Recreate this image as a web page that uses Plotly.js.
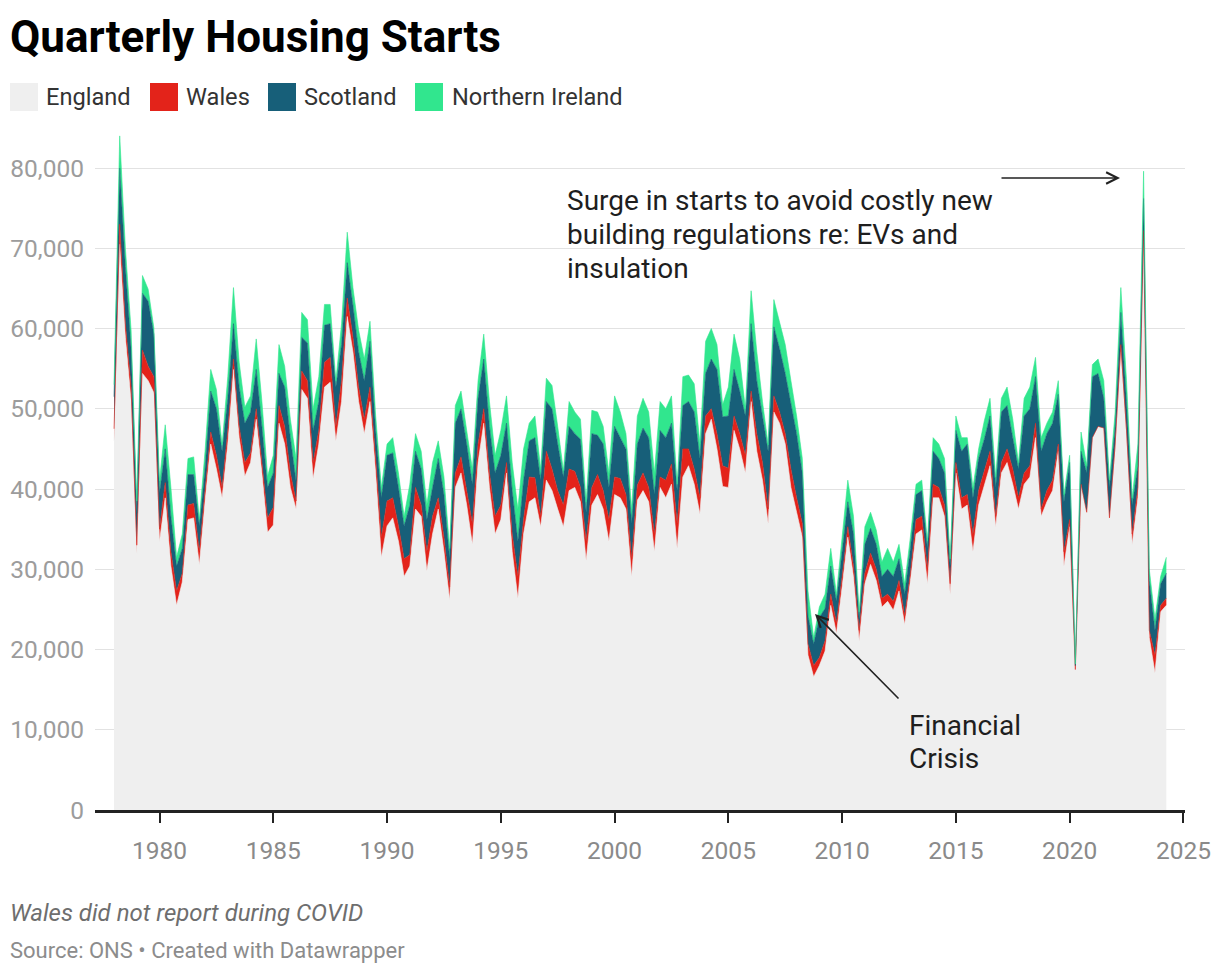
<!DOCTYPE html>
<html>
<head>
<meta charset="utf-8">
<script src="https://cdn.plot.ly/plotly-3.0.1.min.js"></script>
<style>
  html, body { margin: 0; padding: 0; background: #ffffff; }
  #chart { width: 1220px; height: 976px; }
</style>
</head>
<body>
<div id="chart"></div>
<script>
// ---------- DATA (thousands of housing starts per quarter, 1978 Q1 – 2024 Q2) ----------
const firstYear = 1978;           // first quarter shown is 1978 Q1
const unit = 1000;                // values below are in thousands

const england = [
  46.0,70.5,58.9,51.0,32.0,54.4,53.5,52.0,33.5,38.9,
  30.4,25.5,28.4,36.2,36.4,30.6,38.5,45.6,42.5,38.9,
  45.6,54.9,46.4,41.6,43.3,48.7,42.0,34.6,35.5,48.2,
  45.6,40.2,37.5,52.4,51.3,41.3,45.6,52.7,53.3,46.0,
  50.9,61.5,57.1,50.9,46.9,50.9,42.0,31.5,35.4,36.4,
  33.5,29.1,30.4,37.5,36.6,29.8,34.4,37.5,32.2,26.2,
  40.2,42.0,38.0,33.1,43.3,48.2,40.2,34.4,36.2,42.0,
  32.2,26.4,34.4,38.4,38.9,35.3,41.1,39.8,37.5,35.3,
  39.8,40.2,38.4,31.1,38.0,39.3,37.5,33.5,39.3,38.9,
  37.5,29.1,38.6,39.8,38.4,32.2,40.2,38.9,40.6,32.6,
  41.5,42.9,40.6,36.9,46.9,48.7,45.0,40.3,40.2,47.3,
  45.0,42.0,50.9,44.7,41.1,35.7,49.6,48.2,45.6,40.2,
  37.1,34.0,19.3,16.6,18.0,19.8,25.5,22.0,27.8,34.0,
  29.1,21.1,28.2,30.6,28.6,25.3,26.0,24.9,27.3,23.1,
  28.6,34.4,34.9,28.2,38.9,38.9,36.6,26.9,42.0,37.5,
  38.0,32.2,38.0,40.5,42.9,35.3,42.0,43.3,40.6,37.5,
  40.6,41.5,46.4,36.6,38.4,39.8,44.7,30.4,35.3,17.5,
  40.6,37.1,46.4,47.8,47.6,36.4,44.7,57.1,46.4,33.1,
  38.9,70.9,21.5,17.1,24.7,25.5
];

const wales = [
  1.5,2.5,1.7,1.7,1.0,2.9,1.8,2.0,1.5,1.9,
  1.8,1.8,1.1,1.8,1.8,1.6,1.3,1.5,1.7,1.3,
  1.7,1.3,1.4,1.7,1.2,1.3,1.3,1.8,2.2,2.2,
  2.2,1.8,1.0,2.3,2.2,2.0,1.7,3.1,3.1,1.8,
  2.6,2.3,1.8,1.8,1.8,1.8,1.8,2.5,3.1,2.5,
  1.9,2.2,1.4,2.7,1.4,2.4,2.2,1.4,1.8,1.6,
  1.8,2.0,1.8,2.6,2.3,1.8,1.8,2.2,1.8,1.3,
  2.2,2.7,1.8,3.1,2.5,1.3,3.6,2.7,2.3,2.7,
  2.7,2.0,1.8,2.4,2.2,2.5,2.3,2.7,2.2,2.4,
  1.8,2.2,1.9,2.2,1.8,2.2,1.3,2.2,2.5,3.1,
  3.5,2.1,1.9,2.0,2.2,1.3,1.9,2.6,2.4,1.8,
  1.9,2.2,1.3,2.2,2.2,1.8,2.0,1.4,1.3,2.3,
  1.8,1.7,1.4,1.4,1.0,1.3,1.4,1.3,1.3,1.3,
  1.3,1.3,1.3,1.4,1.4,1.1,0.9,1.1,1.3,1.1,
  0.9,1.8,1.7,1.8,1.7,1.3,1.4,1.3,1.3,1.4,
  1.3,2.2,1.8,1.7,1.8,1.3,1.3,1.7,1.9,1.4,
  1.4,1.4,1.8,0.9,1.4,1.3,0.9,1.8,0.9,null,
  null,null,null,null,null,null,0.9,0.9,0.9,1.3,
  1.3,1.3,0.9,2.2,0.8,0.9
];

const scotland = [
  4.0,7.0,7.1,4.8,4.0,7.1,8.1,5.3,4.5,4.2,
  4.4,3.1,3.1,3.8,3.6,3.2,2.7,5.1,5.8,4.5,
  4.0,4.4,4.9,4.9,5.1,4.9,4.5,3.8,4.3,4.0,
  4.9,4.4,2.5,4.2,4.7,4.0,3.6,4.6,4.2,4.9,
  4.5,4.4,4.0,4.4,4.8,5.7,3.5,4.9,5.7,5.6,
  4.8,4.1,6.2,4.5,4.5,4.0,3.6,4.9,5.3,3.5,
  6.2,6.0,5.8,4.9,5.7,6.2,5.8,5.4,6.2,4.9,
  5.4,4.4,4.9,4.5,5.0,4.5,6.2,7.5,5.8,3.5,
  5.3,4.7,6.0,3.6,6.7,4.9,5.8,4.0,6.3,5.1,
  5.7,4.4,5.1,5.6,6.2,4.9,5.8,5.3,5.1,4.1,
  5.4,5.9,7.1,4.9,5.3,6.2,8.0,6.1,6.5,5.8,
  5.3,4.9,8.4,6.6,5.8,7.2,8.6,7.9,7.5,7.9,
  8.0,6.3,3.5,2.7,5.0,4.0,3.5,2.7,3.1,3.1,
  4.0,1.4,3.6,3.1,3.1,2.7,3.1,3.1,2.7,2.7,
  3.1,3.1,3.2,2.6,4.1,3.6,4.0,2.2,4.0,5.8,
  6.3,4.5,4.0,4.0,4.4,3.6,6.3,5.4,3.9,3.6,
  7.1,7.1,5.8,7.2,7.1,7.1,6.2,6.2,7.1,0.5,
  4.1,4.9,7.6,6.6,3.7,3.8,2.2,4.0,3.6,3.6,
  2.7,4.0,6.2,3.1,2.7,3.1
];

const northernIreland = [
  1.5,4.0,2.3,2.3,1.5,2.2,1.5,0.8,1.5,3.0,
  3.6,1.1,1.8,2.0,2.2,0.8,2.2,2.7,2.4,0.8,
  2.7,4.5,3.1,2.0,2.0,3.8,3.1,1.4,2.2,3.6,
  2.6,2.3,2.8,3.1,2.9,2.7,3.1,2.6,2.4,0.8,
  2.6,3.8,2.2,2.7,2.7,2.5,1.8,1.3,1.4,1.9,
  1.8,1.2,2.6,2.2,2.2,1.8,3.1,2.2,2.2,1.3,
  2.2,2.2,1.7,1.9,2.2,3.1,3.1,2.2,3.1,3.4,
  3.5,4.0,3.9,2.2,2.7,1.4,2.9,2.9,2.2,0.8,
  3.1,2.7,2.5,1.3,2.9,2.9,2.2,1.8,3.8,3.2,
  1.9,1.8,3.5,3.7,3.2,2.7,3.6,3.6,3.4,0.8,
  3.6,3.3,3.5,1.8,4.0,3.8,3.1,1.5,3.6,4.4,
  4.0,0.9,4.1,3.6,1.8,0.8,3.4,3.1,3.6,3.1,
  2.2,1.8,3.1,0.8,1.3,1.8,2.2,0.9,2.2,2.7,
  2.2,0.9,2.2,2.0,1.8,1.8,2.6,1.8,1.8,1.3,
  1.4,1.3,1.3,0.9,1.7,1.8,1.8,0.9,1.8,1.7,
  0.8,1.3,1.2,2.3,2.2,1.3,1.7,2.3,2.3,0.8,
  2.2,2.7,2.4,1.7,1.3,1.4,1.7,0.9,0.9,0.2,
  2.4,0.9,1.5,1.8,2.2,0.9,1.8,3.1,2.6,0.9,
  2.7,3.4,1.4,1.4,0.9,2.0
];

const seriesNames  = ['England', 'Wales', 'Scotland', 'Northern Ireland'];
const seriesColors = ['#efefef', '#e3231a', '#175f79', '#31e68e'];
const xTickYears   = [1980, 1985, 1990, 1995, 2000, 2005, 2010, 2015, 2020, 2025];
const yTickValues  = [0, 10000, 20000, 30000, 40000, 50000, 60000, 70000, 80000];

const surgeLines  = ['Surge in starts to avoid costly new', 'building regulations re: EVs and', 'insulation'];
const crisisLines = ['Financial', 'Crisis'];

// quarter positions as decimal years (Q1 = .00, Q2 = .25, ...)
const quarters = england.map((_, i) => firstYear + i / 4);

// ---------- LAYOUT GEOMETRY (pixels) ----------
const W = 1220, H = 976;
const M = { l: 95, r: 35, t: 130, b: 166 };
const plotW = W - M.l - M.r, plotH = H - M.t - M.b;
const px = x => (x - M.l) / plotW;           // pixel x -> paper x
const py = y => (H - M.b - y) / plotH;       // pixel y -> paper y

const FONT = 'Roboto, "Open Sans", sans-serif';

const allSeries = [england, wales, scotland, northernIreland];
const traces = allSeries.map((vals, k) => ({
  type: 'scatter',
  mode: 'lines',
  name: seriesNames[k],
  x: quarters,
  y: vals.map(v => v === null ? null : v * unit),
  stackgroup: 'uk',
  line: { width: 0.6, color: seriesColors[k], shape: 'linear' },
  fillcolor: seriesColors[k],
  hoverinfo: 'skip',
  showlegend: false
}));

// legend (manual squares + labels, as in the original)
const legendItems = [
  { sq: 10,  label: 44  },
  { sq: 150, label: 184 },
  { sq: 268, label: 302 },
  { sq: 415, label: 450 }
];
const shapes = legendItems.map((it, k) => ({
  type: 'rect', xref: 'paper', yref: 'paper',
  x0: px(it.sq), x1: px(it.sq + 28), y0: py(111), y1: py(83),
  fillcolor: seriesColors[k], line: { width: 0 }
}));

const annotations = legendItems.map((it, k) => ({
  xref: 'paper', yref: 'paper', x: px(it.label), y: py(97),
  xanchor: 'left', yanchor: 'middle', showarrow: false,
  text: seriesNames[k],
  font: { family: FONT, size: 23.6, color: '#333333' }
}));

const noteFont = { family: FONT, size: 28, color: '#1e1e1e' };
surgeLines.forEach((t, k) => annotations.push({
  xref: 'paper', yref: 'paper', x: px(565), y: py(201 + k * 33.5),
  xanchor: 'left', yanchor: 'middle', showarrow: false, text: t, font: noteFont
}));
crisisLines.forEach((t, k) => annotations.push({
  xref: 'paper', yref: 'paper', x: px(907), y: py(725 + k * 33.5),
  xanchor: 'left', yanchor: 'middle', showarrow: false, text: t, font: noteFont
}));

annotations.push(
  {
    xref: 'paper', yref: 'paper', x: px(1120), y: py(178),
    ax: -120, ay: 0, text: '', showarrow: true,
    arrowhead: 5, arrowsize: 1.4, arrowwidth: 1.6, arrowcolor: '#222222',
    standoff: 0, startstandoff: 0
  },
  {
    xref: 'paper', yref: 'paper', x: px(815), y: py(614),
    ax: 85, ay: 86, text: '', showarrow: true,
    arrowhead: 5, arrowsize: 1.4, arrowwidth: 1.6, arrowcolor: '#222222',
    standoff: 0, startstandoff: 0
  },
  {
    xref: 'paper', yref: 'paper', x: px(8), y: py(913),
    xanchor: 'left', yanchor: 'middle', showarrow: false,
    text: 'Wales did not report during COVID',
    font: { family: FONT, size: 24, color: '#6e6e6e', style: 'italic' }
  },
  {
    xref: 'paper', yref: 'paper', x: px(8), y: py(950),
    xanchor: 'left', yanchor: 'middle', showarrow: false,
    text: 'Source: ONS • Created with Datawrapper',
    font: { family: FONT, size: 22, color: '#8c8c8c' }
  }
);

const layout = {
  width: W, height: H,
  margin: M,
  paper_bgcolor: '#ffffff',
  plot_bgcolor: '#ffffff',
  font: { family: FONT },
  title: {
    text: 'Quarterly Housing Starts',
    xref: 'container', yref: 'container',
    x: 10 / W, xanchor: 'left',
    y: 1 - 37 / H, yanchor: 'middle',
    font: { family: FONT, size: 44, color: '#000000', weight: 700 }
  },
  showlegend: false,
  xaxis: {
    range: [1977.164, 2025.07],
    tickmode: 'array',
    tickvals: xTickYears,
    ticktext: xTickYears.map(String),
    ticks: 'outside', ticklen: 10, tickwidth: 2, tickcolor: '#222222',
    showline: true, linecolor: '#222222', linewidth: 2.5,
    showgrid: false, zeroline: false,
    ticklabelstandoff: 7,
    tickfont: { family: FONT, size: 24.5, color: '#8a8a8a' },
    fixedrange: true
  },
  yaxis: {
    range: [0, (H - M.b - M.t) / 8.025 * 1000],
    tickmode: 'array',
    tickvals: yTickValues,
    tickformat: ',d',
    ticks: '',
    showline: false, zeroline: false,
    showgrid: true, gridcolor: '#e2e2e2', gridwidth: 1,
    ticklabelstandoff: 10,
    tickfont: { family: FONT, size: 24.5, color: '#9c9c9c' },
    fixedrange: true
  },
  shapes: shapes,
  annotations: annotations
};

Plotly.newPlot('chart', traces, layout, { displayModeBar: false, staticPlot: true });
</script>
</body>
</html>
